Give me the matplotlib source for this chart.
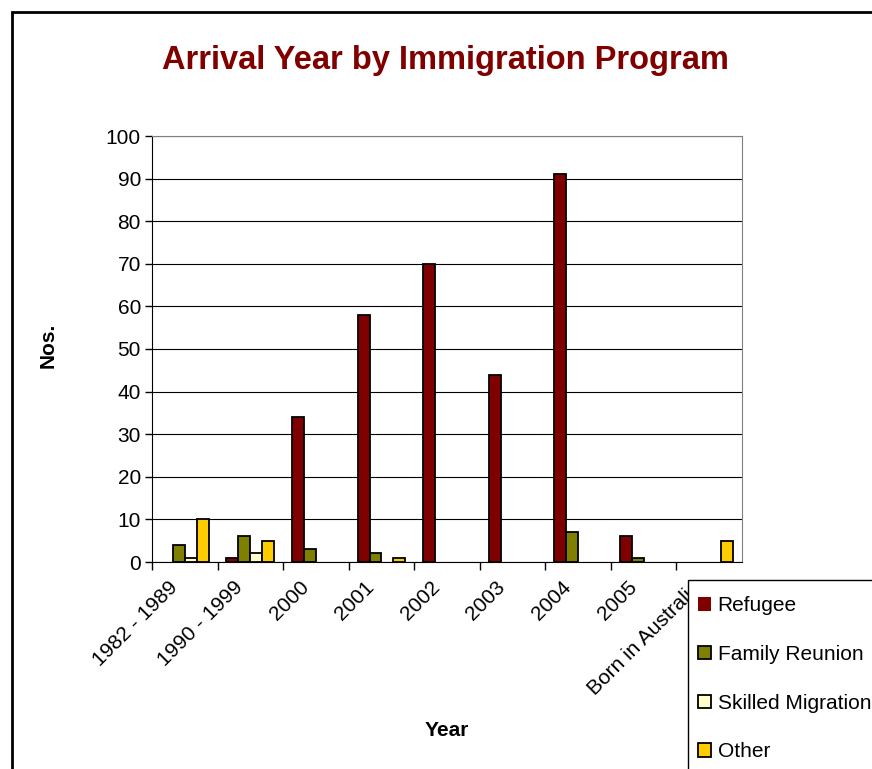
import numpy as np
import matplotlib.pyplot as plt
from matplotlib.patches import Rectangle
from matplotlib.transforms import ScaledTranslation

plt.rcParams['font.family'] = ['Liberation Sans', 'DejaVu Sans']

years = ['1982 - 1989', '1990 - 1999', '2000', '2001', '2002', '2003', '2004', '2005', 'Born in Australia']
refugee = [0, 1, 34, 58, 70, 44, 91, 6, 0]
family_reunion = [4, 6, 3, 2, 0, 0, 7, 1, 0]
skilled_migration = [1, 2, 0, 0, 0, 0, 0, 0, 0]
other = [10, 5, 0, 1, 0, 0, 0, 0, 5]

series = [('Refugee', refugee, '#800000'),
          ('Family Reunion', family_reunion, '#808000'),
          ('Skilled Migration', skilled_migration, '#FFFFCC'),
          ('Other', other, '#FFCC00')]

W, H = 872, 769
fig = plt.figure(figsize=(W / 100, H / 100), dpi=100)
ax = fig.add_axes([152 / W, 1 - 562 / H, 590 / W, 426 / H])

x = np.arange(len(years))
w = 1 / 5.5
for i, (name, vals, col) in enumerate(series):
    bars = ax.bar(x + (i - 1.5) * w, vals, width=w, color=col, edgecolor='black',
                  linewidth=1.3, label=name, zorder=3)
    # empty bars shouldn't leave an outline on the axis
    for b, v in zip(bars, vals):
        if v == 0:
            b.set_linewidth(0)

ax.set_xlim(-0.5, len(years) - 0.5)
ax.set_ylim(0, 100)
ax.set_yticks(range(0, 101, 10))
ax.yaxis.grid(True, color='black', linewidth=0.8, zorder=0)
ax.tick_params(axis='y', labelsize=15, length=5, width=1, direction='out', pad=3)

# category boundaries get tick marks, labels sit at the centres
ax.set_xticks(x - 0.5, minor=False)
ax.set_xticklabels([''] * len(x))
ax.set_xticks(x, minor=True)
ax.set_xticklabels(years, minor=True, rotation=45, ha='right', va='center',
                   rotation_mode='anchor', fontsize=15)
ax.tick_params(axis='x', which='major', length=6, width=1, direction='out')
ax.tick_params(axis='x', which='minor', length=0, pad=16)
shift = ScaledTranslation(-0.1, 0, fig.dpi_scale_trans)
for lbl in ax.get_xticklabels(minor=True):
    lbl.set_transform(lbl.get_transform() + shift)

for s in ['top', 'right']:
    ax.spines[s].set_color('#808080')
for s in ['left', 'bottom']:
    ax.spines[s].set_color('black')

fig.text(445 / W, 1 - 61 / H, 'Arrival Year by Immigration Program',
         ha='center', va='center', fontsize=23.5, fontweight='bold', color='#800000')
fig.text(447 / W, 1 - 730 / H, 'Year', ha='center', va='center',
         fontsize=15, fontweight='bold')
fig.text(48 / W, 1 - 345 / H, 'Nos.', ha='center', va='center',
         fontsize=15, fontweight='bold', rotation=90)

# legend box runs off the bottom/right edge, so its frame is drawn separately
fig.patches.append(Rectangle((688 / W, -0.1), 0.5, 1 - 580 / H + 0.1,
                             transform=fig.transFigure, facecolor='white',
                             edgecolor='black', linewidth=1, zorder=1))
leg = fig.legend(loc='upper left', bbox_to_anchor=(688 / W, 1 - 586 / H),
                 bbox_transform=fig.transFigure, borderaxespad=0,
                 fontsize=15, frameon=False,
                 handlelength=0.62, handleheight=0.62, handletextpad=0.3,
                 labelspacing=1.42, borderpad=0.5)
leg.set_zorder(5)

fig.patches.append(Rectangle((12 / W, -0.1), 1.2, 1 - 12 / H + 0.1,
                             transform=fig.transFigure, fill=False,
                             edgecolor='black', linewidth=2, zorder=6))

fig.savefig('out.png', dpi=100)
